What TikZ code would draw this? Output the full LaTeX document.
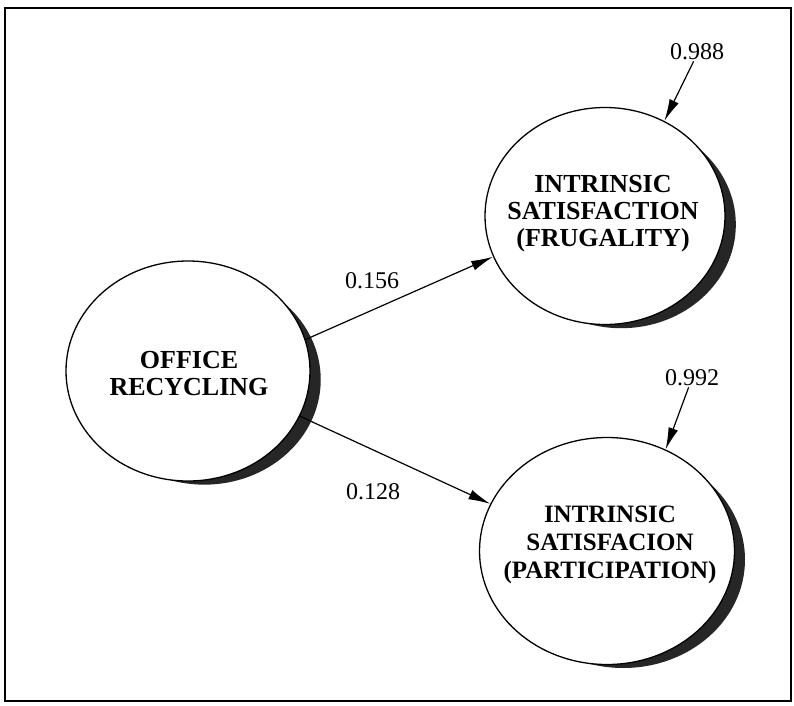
\documentclass[tikz,border=0pt]{standalone}
\usepackage{fontspec}
\setmainfont{Liberation Serif}
\usetikzlibrary{arrows.meta,shadows,shapes.geometric}
\begin{document}
\begin{tikzpicture}[x=1pt,y=-1pt,
  latent/.style={ellipse, draw, line width=1.3pt, fill=white, inner sep=0pt,
    drop shadow={shadow xshift=17pt, shadow yshift=-9pt, shadow scale=0.955, opacity=1, fill=black!85}},
  latentlabel/.style={align=center, inner sep=0pt, font=\bfseries\fontsize{26}{27}\selectfont},
  coef/.style={inner sep=1pt, font=\fontsize{24}{24}\selectfont},
  path/.style={line width=1.2pt, -{Latex[length=22pt,width=10pt]}},
]
\useasboundingbox (0,0) rectangle (794,705);
\draw[line width=1.5pt] (5,8) rectangle (791,701);

\node[latent, minimum width=244pt, minimum height=220pt] (off) at (188,371) {};
\node[latent, minimum width=240pt, minimum height=217pt] (fru) at (605,216) {};
\node[latent, minimum width=255pt, minimum height=227pt] (par) at (607,551) {};

\node[latentlabel] (offT) at (189,374) {OFFICE\\RECYCLING};
\node[latentlabel] (fruT) at (603,214) {INTRINSIC\\SATISFACTION\\(FRUGALITY)};
\node[latentlabel, font=\bfseries\fontsize{25}{28}\selectfont] (parT) at (610,545) {INTRINSIC\\SATISFACION\\(PARTICIPATION)};

\node[coef] (c1) at (372,281) {0.156};
\node[coef] (c2) at (373,492) {0.128};
\node[coef] (e1) at (697,52) {0.988};
\node[coef] (e2) at (692,378) {0.992};

\draw[path] (off.15) -- (fru.200);
\draw[path] (off.-22) -- (par.158);
\draw[path] (e1.250) -- (fru.58);
\draw[path] (e2.250) -- (par.60);
\end{tikzpicture}
\end{document}
